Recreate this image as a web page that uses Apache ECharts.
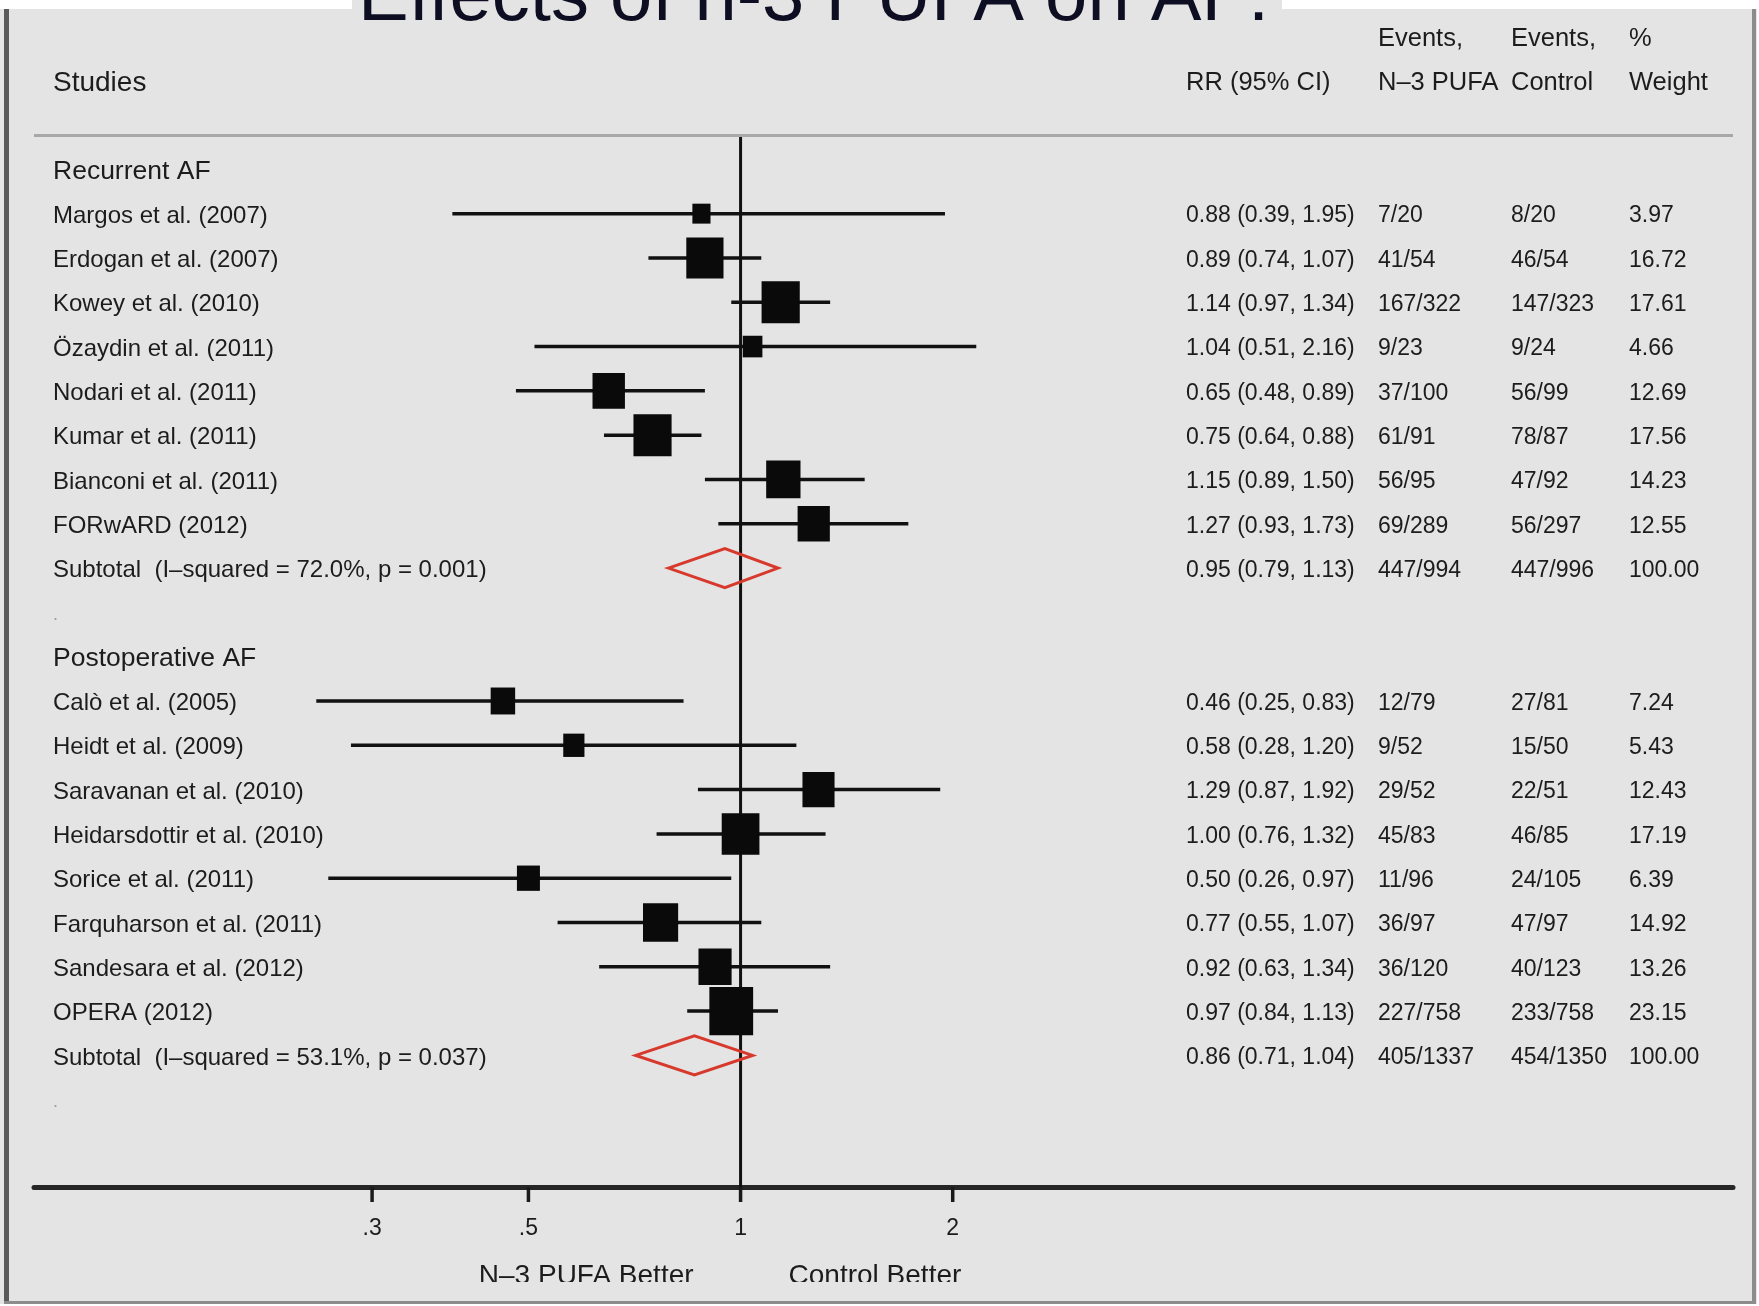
<!DOCTYPE html>
<html>
<head>
<meta charset="utf-8">
<title>Effects of n-3 PUFA on AF</title>
<script src="https://cdn.jsdelivr.net/npm/echarts@6/dist/echarts.min.js"></script>
<style>
  html, body { margin: 0; padding: 0; background: #ffffff; }
  #chart { width: 1759px; height: 1306px; }
</style>
</head>
<body>
<div id="chart"></div>
<script>
// ---------------- data ----------------
const titleText = 'Effects of n-3 PUFA on AF:';

const headerTop = ['', '', 'Events,', 'Events,', '%'];
const headerBottom = ['Studies', 'RR (95% CI)', 'N–3 PUFA', 'Control', 'Weight'];

const recurrentTitle = 'Recurrent AF';
const recurrentStudies = ['Margos et al. (2007)', 'Erdogan et al. (2007)', 'Kowey et al. (2010)',
  'Özaydin et al. (2011)', 'Nodari et al. (2011)', 'Kumar et al. (2011)',
  'Bianconi et al. (2011)', 'FORwARD (2012)'];
const recurrentRR   = [0.88, 0.89, 1.14, 1.04, 0.65, 0.75, 1.15, 1.27];
const recurrentLow  = [0.39, 0.74, 0.97, 0.51, 0.48, 0.64, 0.89, 0.93];
const recurrentHigh = [1.95, 1.07, 1.34, 2.16, 0.89, 0.88, 1.50, 1.73];
const recurrentEventsPufa    = ['7/20', '41/54', '167/322', '9/23', '37/100', '61/91', '56/95', '69/289'];
const recurrentEventsControl = ['8/20', '46/54', '147/323', '9/24', '56/99', '78/87', '47/92', '56/297'];
const recurrentWeight = [3.97, 16.72, 17.61, 4.66, 12.69, 17.56, 14.23, 12.55];
const recurrentSubtotalLabel = 'Subtotal  (I–squared = 72.0%, p = 0.001)';
const recurrentSubtotal = [0.95, 0.79, 1.13];           // RR, lower, upper
const recurrentSubtotalEvents = ['447/994', '447/996'];
const recurrentSubtotalWeight = 100.00;

const postopTitle = 'Postoperative AF';
const postopStudies = ['Calò et al. (2005)', 'Heidt et al. (2009)', 'Saravanan et al. (2010)',
  'Heidarsdottir et al. (2010)', 'Sorice et al. (2011)', 'Farquharson et al. (2011)',
  'Sandesara et al. (2012)', 'OPERA (2012)'];
const postopRR   = [0.46, 0.58, 1.29, 1.00, 0.50, 0.77, 0.92, 0.97];
const postopLow  = [0.25, 0.28, 0.87, 0.76, 0.26, 0.55, 0.63, 0.84];
const postopHigh = [0.83, 1.20, 1.92, 1.32, 0.97, 1.07, 1.34, 1.13];
const postopEventsPufa    = ['12/79', '9/52', '29/52', '45/83', '11/96', '36/97', '36/120', '227/758'];
const postopEventsControl = ['27/81', '15/50', '22/51', '46/85', '24/105', '47/97', '40/123', '233/758'];
const postopWeight = [7.24, 5.43, 12.43, 17.19, 6.39, 14.92, 13.26, 23.15];
const postopSubtotalLabel = 'Subtotal  (I–squared = 53.1%, p = 0.037)';
const postopSubtotal = [0.86, 0.71, 1.04];
const postopSubtotalEvents = ['405/1337', '454/1350'];
const postopSubtotalWeight = 100.00;

const tickValues = [0.3, 0.5, 1, 2];
const tickLabels = ['.3', '.5', '1', '2'];
const favoursLabels = ['N–3 PUFA Better', 'Control Better'];

// ---------------- layout / style ----------------
const BG = '#e4e4e4';
const INK = '#1c1c1c';
const RED = '#d8392d';
const FONT = '"Liberation Sans", Arial, Helvetica, sans-serif';
const X_MIN = 0.0994, X_MAX = 25.6;      // log axis range (RR)
const Y_MIN = -0.73, Y_MAX = 22.97;      // row axis range (row units)
const COL_LABEL = 53, COL_RR = 1186, COL_PUFA = 1378, COL_CTRL = 1511, COL_WT = 1629;
const TEXT_DY = 2.5;                     // optical centring of text on its row
const BOX_SCALE = 9.1;                   // square side per sqrt(% weight)

// one entry per table row
const rows = [];
function addGroup(title, studies, rr, lo, hi, ep, ec, wt, subLabel, sub, subEv, subWt) {
  rows.push({ kind: 'group', label: title });
  studies.forEach((s, i) => rows.push({ kind: 'study', label: s, rr: rr[i], lo: lo[i], hi: hi[i],
    ep: ep[i], ec: ec[i], w: wt[i] }));
  rows.push({ kind: 'subtotal', label: subLabel, rr: sub[0], lo: sub[1], hi: sub[2],
    ep: subEv[0], ec: subEv[1], w: subWt });
  rows.push({ kind: 'blank', label: '.' });
}
addGroup(recurrentTitle, recurrentStudies, recurrentRR, recurrentLow, recurrentHigh,
  recurrentEventsPufa, recurrentEventsControl, recurrentWeight,
  recurrentSubtotalLabel, recurrentSubtotal, recurrentSubtotalEvents, recurrentSubtotalWeight);
addGroup(postopTitle, postopStudies, postopRR, postopLow, postopHigh,
  postopEventsPufa, postopEventsControl, postopWeight,
  postopSubtotalLabel, postopSubtotal, postopSubtotalEvents, postopSubtotalWeight);

const f2 = v => v.toFixed(2);

function textEl(x, y, s, size, extra) {
  return {
    type: 'text', x: x, y: y, silent: true,
    style: Object.assign({ text: s, fill: INK, font: size + 'px ' + FONT,
      align: 'left', verticalAlign: 'middle' }, extra || {})
  };
}

const chart = echarts.init(document.getElementById('chart'), null, { renderer: 'canvas' });

const option = {
  animation: false,
  backgroundColor: '#ffffff',
  grid: { left: 34, right: 26, top: 137, bottom: 119 },
  xAxis: {
    type: 'log', logBase: 10, min: X_MIN, max: X_MAX,
    axisLine: { show: true, onZero: false, lineStyle: { color: '#262626', width: 5 } },
    axisTick: { show: false }, axisLabel: { show: false }, splitLine: { show: false }
  },
  yAxis: { type: 'value', inverse: true, min: Y_MIN, max: Y_MAX, show: false },
  graphic: [
    // panel background and frame
    { type: 'rect', z: -10, silent: true, shape: { x: 0, y: 0, width: 1759, height: 1306 }, style: { fill: BG } },
    { type: 'rect', z: -9, silent: true, shape: { x: 0, y: 0, width: 352, height: 9 }, style: { fill: '#ffffff' } },
    { type: 'rect', z: -9, silent: true, shape: { x: 1282, y: 0, width: 477, height: 9 }, style: { fill: '#ffffff' } },
    { type: 'rect', z: -9, silent: true, shape: { x: 0, y: 1304, width: 1759, height: 2 }, style: { fill: '#ffffff' } },
    { type: 'rect', z: -9, silent: true, shape: { x: 1757, y: 0, width: 2, height: 1306 }, style: { fill: '#ffffff' } },
    { type: 'rect', z: -8, silent: true, shape: { x: 4, y: 9, width: 5, height: 1295 }, style: { fill: '#595959' } },
    { type: 'rect', z: -8, silent: true, shape: { x: 1752, y: 9, width: 4, height: 1295 }, style: { fill: '#8c8c8c' } },
    { type: 'rect', z: -8, silent: true, shape: { x: 4, y: 1301, width: 1752, height: 3 }, style: { fill: '#8c8c8c' } },
    // rule under the column headers
    { type: 'rect', z: -7, silent: true, shape: { x: 34, y: 134, width: 1699, height: 3 }, style: { fill: '#a8a8a8' } },
    // title, running off the top edge
    { type: 'text', z: 5, silent: true, x: 358, y: 25 - 0.3465 * 76,
      style: { text: titleText, font: '76px ' + FONT, fill: '#0e0e22', align: 'left', verticalAlign: 'middle' } },
    // cut-off strip below the favours labels
    { type: 'rect', z: 20, silent: true, shape: { x: 300, y: 1282, width: 800, height: 19 }, style: { fill: BG } }
  ],
  series: [
    // column headers (rows -3 and -2)
    {
      type: 'custom', name: 'header', silent: true, clip: false,
      data: [[-3], [-2]],
      renderItem: function (params, api) {
        const y = api.coord([1, api.value(0)])[1] + TEXT_DY;
        const labels = params.dataIndex === 0 ? headerTop : headerBottom;
        const cols = [COL_LABEL, COL_RR, COL_PUFA, COL_CTRL, COL_WT];
        const kids = [];
        labels.forEach((s, i) => { if (s) kids.push(textEl(cols[i], y, s, i === 0 ? 28 : 25.5)); });
        return { type: 'group', children: kids };
      }
    },
    // reference line at RR = 1
    {
      type: 'custom', name: 'null line', silent: true, clip: false,
      data: [[1]],
      renderItem: function (params, api) {
        const a = api.coord([api.value(0), Y_MIN]);
        const b = api.coord([api.value(0), Y_MAX]);
        return { type: 'line', shape: { x1: a[0], y1: a[1], x2: b[0], y2: b[1] },
          style: { stroke: '#111111', lineWidth: 3 } };
      }
    },
    // confidence intervals, weighted squares and pooled diamonds
    {
      type: 'custom', name: 'forest', silent: true, clip: false,
      data: rows.map((r, i) => [i]),
      renderItem: function (params, api) {
        const r = rows[params.dataIndex];
        const row = api.value(0);
        if (r.kind === 'study') {
          const lo = api.coord([r.lo, row]);
          const hi = api.coord([r.hi, row]);
          const c = api.coord([r.rr, row]);
          const side = BOX_SCALE * Math.sqrt(r.w);
          const h = side * 1.1;
          return { type: 'group', children: [
            { type: 'line', shape: { x1: lo[0], y1: lo[1], x2: hi[0], y2: hi[1] },
              style: { stroke: '#111111', lineWidth: 3.5 } },
            { type: 'rect', shape: { x: c[0] - side / 2, y: c[1] - h / 2, width: side, height: h },
              style: { fill: '#0a0a0a' } }
          ] };
        }
        if (r.kind === 'subtotal') {
          const half = 0.44;
          const pts = [
            api.coord([r.lo, row]), api.coord([r.rr, row - half]),
            api.coord([r.hi, row]), api.coord([r.rr, row + half])
          ];
          return { type: 'polygon', shape: { points: pts },
            style: { fill: 'none', stroke: RED, lineWidth: 3, lineJoin: 'miter' } };
        }
        return null;
      }
    },
    // text table: study names, RR (95% CI), events and weights
    {
      type: 'custom', name: 'table', silent: true, clip: false,
      data: rows.map((r, i) => [i]),
      renderItem: function (params, api) {
        const r = rows[params.dataIndex];
        const y = api.coord([1, api.value(0)])[1] + TEXT_DY;
        const kids = [];
        if (r.kind === 'group') {
          kids.push(textEl(COL_LABEL, y, r.label, 26.5));
        } else if (r.kind === 'blank') {
          kids.push(textEl(COL_LABEL, y, r.label, 18, { fill: '#a0a0a0' }));
        } else {
          kids.push(textEl(COL_LABEL, y, r.label, 24));
          kids.push(textEl(COL_RR, y, f2(r.rr) + ' (' + f2(r.lo) + ', ' + f2(r.hi) + ')', 23));
          kids.push(textEl(COL_PUFA, y, r.ep, 23));
          kids.push(textEl(COL_CTRL, y, r.ec, 23));
          kids.push(textEl(COL_WT, y, f2(r.w), 23));
        }
        return { type: 'group', children: kids };
      }
    },
    // axis ticks and tick labels
    {
      type: 'custom', name: 'ticks', silent: true, clip: false,
      data: tickValues.map((v, i) => [v, i]),
      renderItem: function (params, api) {
        const p = api.coord([api.value(0), Y_MAX]);
        return { type: 'group', children: [
          { type: 'line', shape: { x1: p[0], y1: p[1], x2: p[0], y2: p[1] + 15 },
            style: { stroke: '#1a1a1a', lineWidth: 3.5 } },
          textEl(p[0], p[1] + 42, tickLabels[params.dataIndex], 23, { align: 'center' })
        ] };
      }
    },
    // favours labels either side of the null line
    {
      type: 'custom', name: 'favours', silent: true, clip: false,
      data: [[1]],
      renderItem: function (params, api) {
        const p = api.coord([api.value(0), Y_MAX]);
        return { type: 'group', children: [
          textEl(p[0] - 47, p[1] + 89, favoursLabels[0], 28, { align: 'right' }),
          textEl(p[0] + 48, p[1] + 89, favoursLabels[1], 28, { align: 'left' })
        ] };
      }
    }
  ]
};

chart.setOption(option);
</script>
</body>
</html>
